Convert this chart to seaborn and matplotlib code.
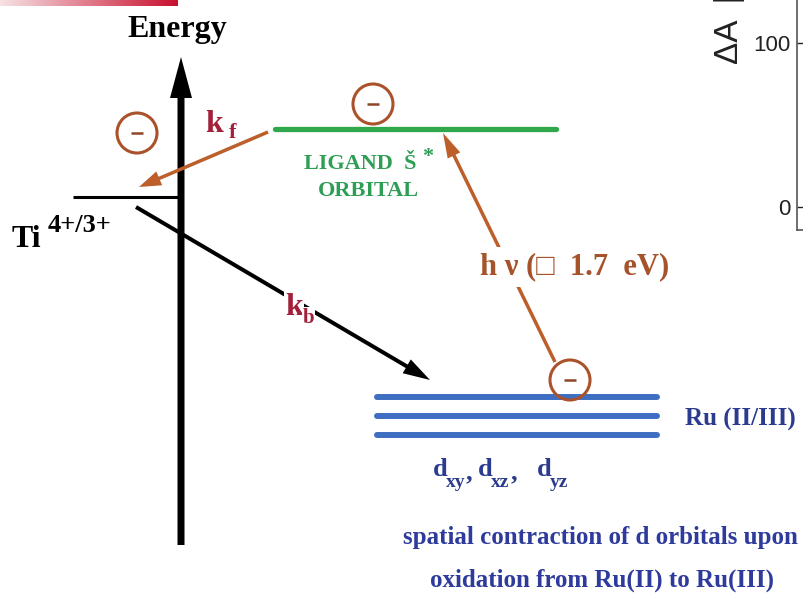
import numpy as np
import pandas as pd
import matplotlib
matplotlib.use("Agg")
import matplotlib.pyplot as plt
from matplotlib.colors import LinearSegmentedColormap
import seaborn as sns


# Données du schéma (coordonnées du dessin, y vers le bas)
# ***********************************************************************************************

level_names = ["Ti", "ligand", "Ru_xy", "Ru_xz", "Ru_yz"]
level_x0 = [73, 275, 377, 377, 377]
level_x1 = [181, 556, 657, 657, 657]
level_y = [197, 129, 397, 416, 435]

electron_x = [137, 373, 570]
electron_y = [133, 104, 380]

transfer_names = ["energy", "kf", "kb", "hv"]
transfer_x0 = [181, 268, 136, 555]
transfer_y0 = [545, 132, 207, 362]
transfer_x1 = [181, 139, 430, 443]
transfer_y1 = [57, 187, 380, 133]

orbital_subscripts = ["xy", "xz", "yz"]

dA_ticks = [0, 100]
dA_tick_labels = ["0", "100"]


def generer_schema():
    sns.set_theme(style="white")
    plt.rcParams["font.family"] = ["Liberation Serif", "DejaVu Sans"]
    plt.rcParams["font.weight"] = "bold"

    fig = plt.figure(figsize=(8.04, 5.95), dpi=100)
    ax = fig.add_axes([0, 0, 1, 1])
    ax.set_facecolor("white")

    # bandeau rouge en haut à gauche
    cmap_bandeau = LinearSegmentedColormap.from_list("bandeau", ["#f6e2e5", "#e07a8a", "#c8102e"])
    ax.imshow(np.linspace(0, 1, 200)[None, :], cmap=cmap_bandeau, aspect="auto",
              extent=[0, 178, 6, 0], zorder=1)

    # Niveaux d'énergie
    df_levels = pd.DataFrame({
        "level": np.repeat(level_names, 2),
        "x": np.ravel(np.column_stack([level_x0, level_x1])),
        "y": np.repeat(level_y, 2),
    })
    styles = {
        "Ti": dict(color="black", linewidth=2.2, solid_capstyle="butt"),
        "ligand": dict(color="#2fa84b", linewidth=3.8, solid_capstyle="round"),
        "Ru_xy": dict(color="#3e6ec2", linewidth=4.3, solid_capstyle="round"),
        "Ru_xz": dict(color="#3e6ec2", linewidth=4.3, solid_capstyle="round"),
        "Ru_yz": dict(color="#3e6ec2", linewidth=4.3, solid_capstyle="round"),
    }
    for name in level_names:
        sns.lineplot(data=df_levels[df_levels["level"] == name], x="x", y="y",
                     estimator=None, sort=False, ax=ax, zorder=3, **styles[name])

    # Flèches (axe d'énergie, kf, kb, h nu)
    fleches = {
        "energy": dict(width=7, head_width=22, head_length=41, color="black"),
        "kf": dict(width=3.5, head_width=15, head_length=22, color="#bd5f2b"),
        "kb": dict(width=4, head_width=16, head_length=27, color="black"),
        "hv": dict(width=3.5, head_width=14, head_length=25, color="#bd5f2b"),
    }
    for i, name in enumerate(transfer_names):
        ax.arrow(transfer_x0[i], transfer_y0[i],
                 transfer_x1[i] - transfer_x0[i], transfer_y1[i] - transfer_y0[i],
                 length_includes_head=True, linewidth=0, zorder=4, **fleches[name])

    # Électrons
    sns.scatterplot(x=electron_x, y=electron_y, s=830, marker="o", facecolor="none",
                    edgecolor="#aa522b", linewidth=2.2, ax=ax, zorder=6, legend=False)
    sns.scatterplot(x=electron_x, y=electron_y, s=70, marker="_", color="#8e4529",
                    linewidth=1.8, ax=ax, zorder=6, legend=False)

    # Textes
    rouge = "#a3203a"
    brun = "#a6532b"
    vert = "#2f9e55"
    bleu = "#2b3b8e"
    ax.text(177, 37, "Energy", fontsize=23, ha="center", va="baseline", color="black")
    ax.text(12, 247, "Ti", fontsize=23, ha="left", va="baseline", color="black")
    ax.text(48, 232, "4+/3+", fontsize=19, ha="left", va="baseline", color="black")

    ax.text(205, 132, "k", fontsize=23, ha="left", va="baseline", color=rouge, zorder=7)
    ax.text(229, 138, "f", fontsize=16, ha="left", va="baseline", color=rouge, zorder=7)
    ax.text(285, 315, "k", fontsize=23, ha="left", va="baseline", color=rouge, zorder=7,
            bbox=dict(facecolor="white", edgecolor="none", pad=0.5))
    ax.text(303, 323, "b", fontsize=15, ha="left", va="baseline", color=rouge, zorder=7,
            bbox=dict(facecolor="white", edgecolor="none", pad=0.5))

    ax.text(304, 169, "LIGAND  Š", fontsize=16, ha="left", va="baseline", color=vert)
    ax.text(422, 162, "*", fontsize=16, ha="left", va="baseline", color=vert)
    ax.text(368, 196, "ORBITAL", fontsize=16, ha="center", va="baseline", color=vert)

    ax.text(480, 274, "h ν (□  1.7  eV)", fontsize=22, ha="left", va="baseline", color=brun,
            zorder=7, bbox=dict(facecolor="white", edgecolor="none", pad=4))

    ax.text(685, 426, "Ru (II/III)", fontsize=18, ha="left", va="baseline", color=bleu)
    for xd, xs, sub in zip([433, 478, 537], [446, 491, 550], orbital_subscripts):
        ax.text(xd, 476, "d", fontsize=19, ha="left", va="baseline", color=bleu)
        ax.text(xs, 487, sub, fontsize=14, ha="left", va="baseline", color=bleu)
    for xc in [466, 511]:
        ax.text(xc, 479, ",", fontsize=19, ha="left", va="baseline", color=bleu)
    ax.text(600, 544, "spatial contraction of d orbitals upon", fontsize=18,
            ha="center", va="baseline", color="#2e3b9c")
    ax.text(602, 587, "oxidation from Ru(II) to Ru(III)", fontsize=18,
            ha="center", va="baseline", color="#2e3b9c")

    # Bord du panneau voisin (ΔA)
    ax.text(730, 64, "ΔA  [mOD]", fontsize=24, rotation=90, ha="center", va="bottom",
            color="#222222", family="Liberation Sans", fontweight="normal")

    ax.set_xlim(0, 804)
    ax.set_ylim(595, 0)
    ax.axis("off")

    ax2 = fig.add_axes([797 / 804, (595 - 230) / 595, 0.3, 230 / 595])
    ax2.set_facecolor("none")
    ax2.set_ylim((207 - 230) / 164 * 100, 207 / 164 * 100)
    ax2.set_yticks(dA_ticks)
    ax2.set_yticklabels(dA_tick_labels, family="Liberation Sans", fontweight="normal")
    ax2.set_xticks([])
    ax2.tick_params(axis="y", direction="in", length=5, width=1, labelsize=16, pad=5,
                    colors="#222222", left=True)
    for cote in ["top", "right"]:
        ax2.spines[cote].set_visible(False)
    for cote in ["left", "bottom"]:
        ax2.spines[cote].set_color("#555555")
        ax2.spines[cote].set_linewidth(1.2)

    fig.savefig("out.png", dpi=100)
    plt.close(fig)


if __name__ == "__main__":
    generer_schema()
